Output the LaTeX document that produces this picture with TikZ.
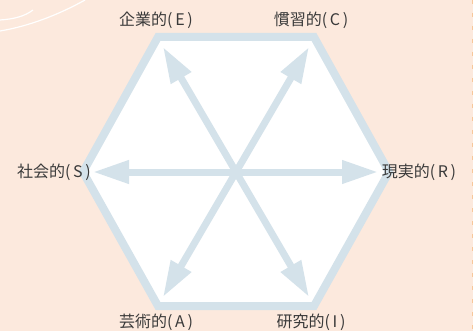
\documentclass[tikz,border=0pt]{standalone}
\usepackage{fontspec}
\setmainfont{Noto Sans CJK JP}
\usetikzlibrary{arrows.meta}

\definecolor{peach}{HTML}{FCE9DD}
\definecolor{paleblue}{HTML}{D4E2EA}
\definecolor{labelgray}{HTML}{3A3A3A}
\definecolor{edgeorange}{HTML}{F7C79A}

\tikzset{
  typelabel/.style={text=labelgray, font=\fontsize{16}{18}\selectfont, inner sep=1pt},
  hexline/.style={draw=paleblue, line width=8pt, fill=white, line join=miter},
  typearrow/.style={draw=paleblue, line width=7pt, -{Triangle[length=36pt,width=22pt]}, shorten <=-2pt}
}

\begin{document}
\begin{tikzpicture}[x=1pt, y=-1pt]
  \fill[peach] (0,0) rectangle (473,331);
  \useasboundingbox (0,0) rectangle (473,331);

  % background strokes
  \draw[white, line width=1.2pt] (0,31) .. controls (30,26) and (60,14) .. (85,0);
  \draw[white, line width=1.2pt] (0,20) .. controls (15,19) and (25,16) .. (33,10);
  \draw[edgeorange, line width=1pt, dash pattern=on 4pt off 9pt] (472,0) -- (472,331);

  % hexagon
  \draw[hexline] (158,37) -- (314,37) -- (389,172) -- (314,306) -- (158,306) -- (83,172) -- cycle;

  \coordinate (c) at (236,172);
  \coordinate (tipE) at (163,47);
  \coordinate (tipC) at (309,47);
  \coordinate (tipR) at (378,172);
  \coordinate (tipS) at (93,172);
  \coordinate (tipA) at (163,297);
  \coordinate (tipI) at (309,297);

  % arrows
  \draw[typearrow] (c) -- (tipE);
  \draw[typearrow] (c) -- (tipC);
  \draw[typearrow] (c) -- (tipR);
  \draw[typearrow] (c) -- (tipS);
  \draw[typearrow] (c) -- (tipA);
  \draw[typearrow] (c) -- (tipI);

  % labels
  \node (E) [typelabel] at (156,20) {企業的(\,E\,)};
  \node (C) [typelabel] at (311,20) {慣習的(\,C\,)};
  \node (S) [typelabel] at (54,172) {社会的(\,S\,)};
  \node (R) [typelabel] at (419,172) {現実的(\,R\,)};
  \node (A) [typelabel] at (156,322) {芸術的(\,A\,)};
  \node (I) [typelabel] at (311,322) {研究的(\,I\,)};
\end{tikzpicture}
\end{document}
